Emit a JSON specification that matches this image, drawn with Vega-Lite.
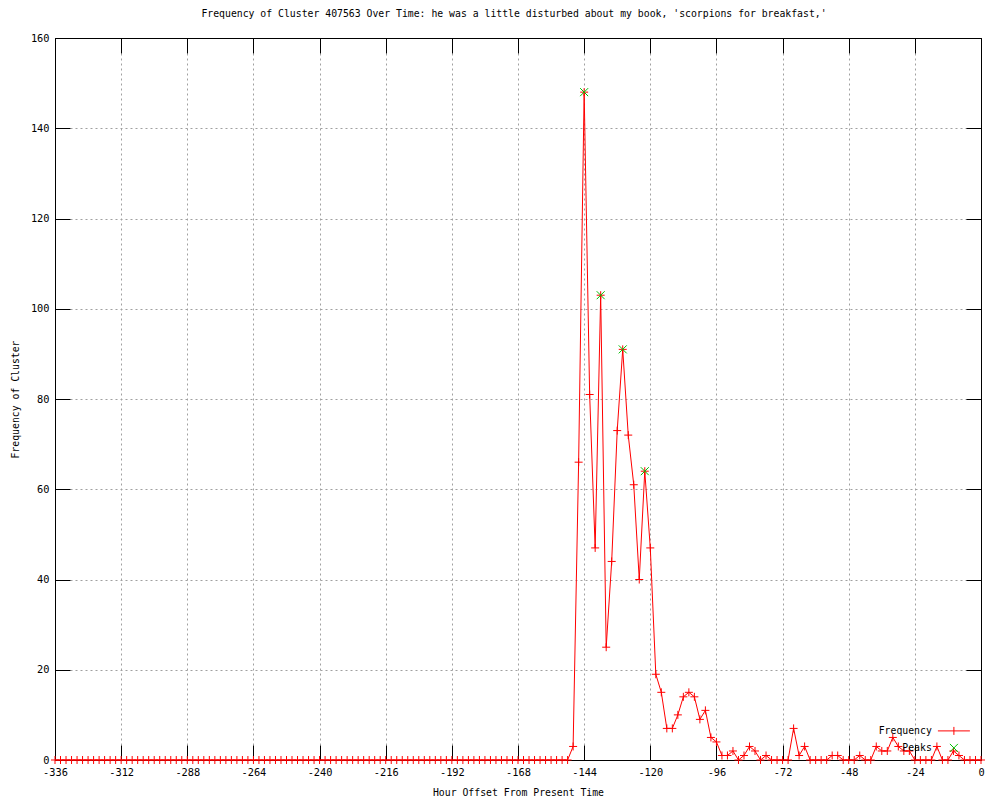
{
  "$schema": "https://vega.github.io/schema/vega-lite/v6.json",
  "width": 926,
  "height": 722,
  "autosize": {"type": "none"},
  "padding": {"left": 55, "top": 38, "right": 19, "bottom": 40},
  "background": "white",
  "title": {
    "text": "Frequency of Cluster 407563 Over Time: he was a little disturbed about my book, 'scorpions for breakfast,'",
    "font": "DejaVu Sans Mono",
    "fontSize": 9.8,
    "fontWeight": "normal",
    "color": "black",
    "anchor": "middle",
    "dx": -4,
    "offset": 14
  },
  "config": {
    "view": {"stroke": "black", "strokeWidth": 1},
    "axis": {
      "domainColor": "black",
      "tickColor": "black",
      "tickSize": -15,
      "labelFont": "DejaVu Sans Mono",
      "labelFontSize": 10.3,
      "labelColor": "black",
      "titleFont": "DejaVu Sans Mono",
      "titleFontSize": 9.8,
      "titleFontWeight": "normal",
      "titleColor": "black",
      "gridColor": "#a0a0a0",
      "gridDash": [2, 3],
      "gridWidth": 1,
      "gridOpacity": 1
    }
  },
  "datasets": {
    "freq": [
      {"h": -336, "f": 0}, {"h": -334, "f": 0}, {"h": -332, "f": 0}, {"h": -330, "f": 0}, {"h": -328, "f": 0}, {"h": -326, "f": 0}, {"h": -324, "f": 0}, {"h": -322, "f": 0}, {"h": -320, "f": 0}, {"h": -318, "f": 0}, {"h": -316, "f": 0}, {"h": -314, "f": 0},
      {"h": -312, "f": 0}, {"h": -310, "f": 0}, {"h": -308, "f": 0}, {"h": -306, "f": 0}, {"h": -304, "f": 0}, {"h": -302, "f": 0}, {"h": -300, "f": 0}, {"h": -298, "f": 0}, {"h": -296, "f": 0}, {"h": -294, "f": 0}, {"h": -292, "f": 0}, {"h": -290, "f": 0},
      {"h": -288, "f": 0}, {"h": -286, "f": 0}, {"h": -284, "f": 0}, {"h": -282, "f": 0}, {"h": -280, "f": 0}, {"h": -278, "f": 0}, {"h": -276, "f": 0}, {"h": -274, "f": 0}, {"h": -272, "f": 0}, {"h": -270, "f": 0}, {"h": -268, "f": 0}, {"h": -266, "f": 0},
      {"h": -264, "f": 0}, {"h": -262, "f": 0}, {"h": -260, "f": 0}, {"h": -258, "f": 0}, {"h": -256, "f": 0}, {"h": -254, "f": 0}, {"h": -252, "f": 0}, {"h": -250, "f": 0}, {"h": -248, "f": 0}, {"h": -246, "f": 0}, {"h": -244, "f": 0}, {"h": -242, "f": 0},
      {"h": -240, "f": 0}, {"h": -238, "f": 0}, {"h": -236, "f": 0}, {"h": -234, "f": 0}, {"h": -232, "f": 0}, {"h": -230, "f": 0}, {"h": -228, "f": 0}, {"h": -226, "f": 0}, {"h": -224, "f": 0}, {"h": -222, "f": 0}, {"h": -220, "f": 0}, {"h": -218, "f": 0},
      {"h": -216, "f": 0}, {"h": -214, "f": 0}, {"h": -212, "f": 0}, {"h": -210, "f": 0}, {"h": -208, "f": 0}, {"h": -206, "f": 0}, {"h": -204, "f": 0}, {"h": -202, "f": 0}, {"h": -200, "f": 0}, {"h": -198, "f": 0}, {"h": -196, "f": 0}, {"h": -194, "f": 0},
      {"h": -192, "f": 0}, {"h": -190, "f": 0}, {"h": -188, "f": 0}, {"h": -186, "f": 0}, {"h": -184, "f": 0}, {"h": -182, "f": 0}, {"h": -180, "f": 0}, {"h": -178, "f": 0}, {"h": -176, "f": 0}, {"h": -174, "f": 0}, {"h": -172, "f": 0}, {"h": -170, "f": 0},
      {"h": -168, "f": 0}, {"h": -166, "f": 0}, {"h": -164, "f": 0}, {"h": -162, "f": 0}, {"h": -160, "f": 0}, {"h": -158, "f": 0}, {"h": -156, "f": 0}, {"h": -154, "f": 0}, {"h": -152, "f": 0}, {"h": -150, "f": 0}, {"h": -148, "f": 3}, {"h": -146, "f": 66},
      {"h": -144, "f": 148}, {"h": -142, "f": 81}, {"h": -140, "f": 47}, {"h": -138, "f": 103}, {"h": -136, "f": 25}, {"h": -134, "f": 44}, {"h": -132, "f": 73}, {"h": -130, "f": 91}, {"h": -128, "f": 72}, {"h": -126, "f": 61}, {"h": -124, "f": 40}, {"h": -122, "f": 64},
      {"h": -120, "f": 47}, {"h": -118, "f": 19}, {"h": -116, "f": 15}, {"h": -114, "f": 7}, {"h": -112, "f": 7}, {"h": -110, "f": 10}, {"h": -108, "f": 14}, {"h": -106, "f": 15}, {"h": -104, "f": 14}, {"h": -102, "f": 9}, {"h": -100, "f": 11}, {"h": -98, "f": 5},
      {"h": -96, "f": 4}, {"h": -94, "f": 1}, {"h": -92, "f": 1}, {"h": -90, "f": 2}, {"h": -88, "f": 0}, {"h": -86, "f": 1}, {"h": -84, "f": 3}, {"h": -82, "f": 2}, {"h": -80, "f": 0}, {"h": -78, "f": 1}, {"h": -76, "f": 0}, {"h": -74, "f": 0},
      {"h": -72, "f": 0}, {"h": -70, "f": 0}, {"h": -68, "f": 7}, {"h": -66, "f": 1}, {"h": -64, "f": 3}, {"h": -62, "f": 0}, {"h": -60, "f": 0}, {"h": -58, "f": 0}, {"h": -56, "f": 0}, {"h": -54, "f": 1}, {"h": -52, "f": 1}, {"h": -50, "f": 0},
      {"h": -48, "f": 0}, {"h": -46, "f": 0}, {"h": -44, "f": 1}, {"h": -42, "f": 0}, {"h": -40, "f": 0}, {"h": -38, "f": 3}, {"h": -36, "f": 2}, {"h": -34, "f": 2}, {"h": -32, "f": 5}, {"h": -30, "f": 3}, {"h": -28, "f": 2}, {"h": -26, "f": 2},
      {"h": -24, "f": 0}, {"h": -22, "f": 0}, {"h": -20, "f": 0}, {"h": -18, "f": 0}, {"h": -16, "f": 3}, {"h": -14, "f": 0}, {"h": -12, "f": 0}, {"h": -10, "f": 2}, {"h": -8, "f": 1}, {"h": -6, "f": 0}, {"h": -4, "f": 0}, {"h": -2, "f": 0},
      {"h": 0, "f": 0}
    ],
    "peaks": [
      {"h": -144, "f": 148}, {"h": -138, "f": 103}, {"h": -130, "f": 91}, {"h": -122, "f": 64}
    ],
    "none": []
  },
  "resolve": {"axis": {"x": "independent", "y": "independent"}},
  "layer": [
    {
      "data": {"name": "none"},
      "mark": {"type": "point", "filled": false, "strokeWidth": 1, "size": 64, "opacity": 1},
      "encoding": {
        "x": {"field": "h", "type": "quantitative", "axis": null},
        "y": {"field": "f", "type": "quantitative", "axis": null},
        "color": {
          "datum": "Frequency",
          "scale": {"domain": ["Frequency", "Peaks"], "range": ["#ff0000", "#00c000"]},
          "legend": {
            "orient": "none",
            "legendX": 894,
            "legendY": 688,
            "title": null,
            "padding": 0,
            "labelFont": "DejaVu Sans Mono",
            "labelFontSize": 9.8,
            "labelColor": "black",
            "labelAlign": "right",
            "labelOffset": -27,
            "symbolSize": 64,
            "symbolStrokeWidth": 1,
            "rowPadding": 4
          }
        },
        "shape": {
          "datum": "Frequency",
          "scale": {"domain": ["Frequency", "Peaks"], "range": ["M-4,0H4M0,-1V1", "M-1,-1L1,1M-1,1L1,-1"]}
        }
      }
    },
    {
      "data": {"name": "freq"},
      "mark": {"type": "line", "color": "#ff0000", "strokeWidth": 1},
      "encoding": {
        "x": {
          "field": "h", "type": "quantitative",
          "scale": {"domain": [-336, 0], "nice": false, "zero": false},
          "axis": {
            "orient": "bottom",
            "values": [-336, -312, -288, -264, -240, -216, -192, -168, -144, -120, -96, -72, -48, -24, 0],
            "labelExpr": "'' + datum.value",
            "labelPadding": 22,
            "labelFlush": false,
            "grid": true,
            "title": "Hour Offset From Present Time",
            "titlePadding": 10
          }
        },
        "y": {
          "field": "f", "type": "quantitative",
          "scale": {"domain": [0, 160], "nice": false},
          "axis": {
            "orient": "left",
            "values": [0, 20, 40, 60, 80, 100, 120, 140, 160],
            "labelPadding": 21,
            "grid": true,
            "title": "Frequency of Cluster",
            "titlePadding": 10
          }
        }
      }
    },
    {
      "data": {"name": "freq"},
      "mark": {"type": "point", "filled": false, "strokeWidth": 1, "size": 64, "opacity": 1, "shape": "M-1,0H1M0,-1V1"},
      "encoding": {
        "x": {
          "field": "h", "type": "quantitative",
          "axis": {"orient": "top", "values": [-336, -312, -288, -264, -240, -216, -192, -168, -144, -120, -96, -72, -48, -24, 0], "labels": false, "grid": false, "title": null}
        },
        "y": {
          "field": "f", "type": "quantitative",
          "axis": {"orient": "right", "values": [0, 20, 40, 60, 80, 100, 120, 140, 160], "labels": false, "grid": false, "title": null}
        },
        "color": {"datum": "Frequency"}
      }
    },
    {
      "data": {"name": "peaks"},
      "mark": {"type": "point", "filled": false, "strokeWidth": 1, "size": 64, "opacity": 1},
      "encoding": {
        "x": {"field": "h", "type": "quantitative", "axis": null},
        "y": {"field": "f", "type": "quantitative", "axis": null},
        "color": {"datum": "Peaks"},
        "shape": {"datum": "Peaks"}
      }
    }
  ]
}
